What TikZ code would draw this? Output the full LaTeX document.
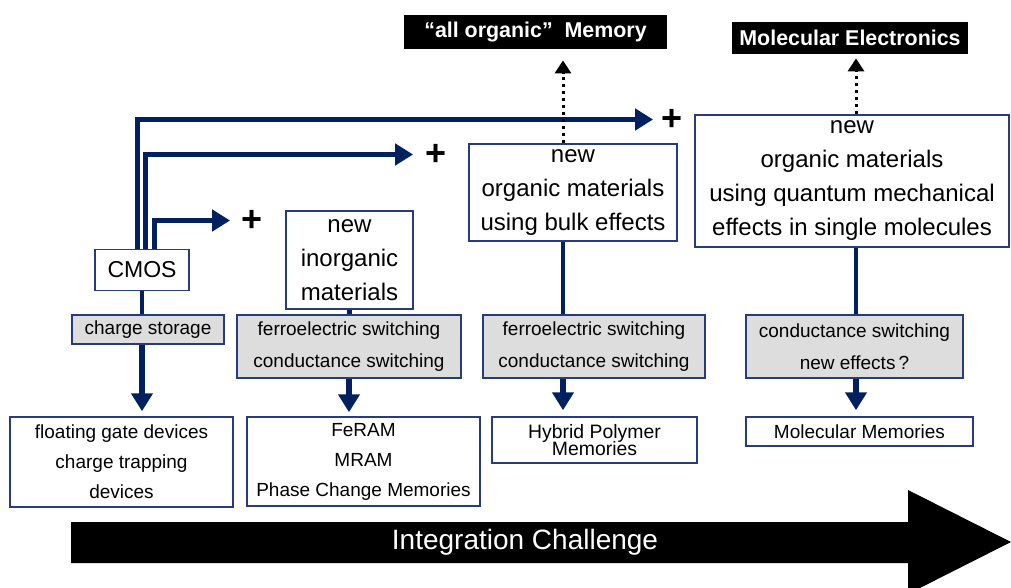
\documentclass[tikz,border=0pt]{standalone}
\usepackage{fontspec}
\setmainfont{Liberation Sans}
\usetikzlibrary{arrows.meta}
\definecolor{MemNavy}{RGB}{0,32,96}
\definecolor{MemFrame}{RGB}{40,60,125}
\definecolor{MemGray}{RGB}{221,221,221}

\begin{document}
\begin{tikzpicture}[x=0.5pt,y=-0.5pt,
    box/.style={draw=MemFrame, line width=0.75pt, fill=white, inner sep=0pt, align=center},
    graybox/.style={box, fill=MemGray, font=\fontsize{9.5}{16}\selectfont},
    bigtext/.style={font=\fontsize{12}{17}\selectfont},
    smalltext/.style={font=\fontsize{9.5}{15}\selectfont},
    tighttext/.style={font={\fontsize{9.7}{8.8}\selectfont\lineskiplimit=-10pt\relax}},
    tag/.style={fill=black, text=white, inner sep=0pt, font=\bfseries\fontsize{10.7}{12}\selectfont},
    flow/.style={MemNavy, line width=2.6pt, -{Triangle[length=9pt,width=10.5pt]}},
    link/.style={MemNavy, line width=2.2pt},
    hint/.style={black, line width=1.5pt, dash pattern=on 1.5pt off 2pt, -{Triangle[length=6.5pt,width=8pt]}},
    plus/.style={inner sep=0pt, font=\bfseries\fontsize{18}{18}\selectfont}]
  \useasboundingbox (0,0) rectangle (1011,588);

  % integration arrow
  \fill (71,522) -- (908,522) -- (908,490) -- (1011,542) -- (908,594) -- (908,563) -- (71,563) -- cycle;
  \node[text=white, font=\fontsize{14}{16}\selectfont] (integ) at (525,542.5) {Integration Challenge};

  % CMOS column
  \node[box, minimum width=47pt, minimum height=20.5pt, font=\fontsize{11.5}{14}\selectfont] (cmos) at (142,270) {CMOS};
  \node[graybox, minimum width=76pt, minimum height=14.5pt] (charge) at (148,329.5) {charge storage};
  \node[box, smalltext, minimum width=111.5pt, minimum height=45pt] (floating) at (121.5,462) {floating gate devices\\charge trapping\\devices};

  % inorganic column
  \node[box, bigtext, minimum width=63.5pt, minimum height=49pt] (inorg) at (349.5,260) {new\\inorganic\\materials};
  \node[graybox, minimum width=112pt, minimum height=31.5pt] (switchA) at (349,346.5) {ferroelectric switching\\conductance switching};
  \node[box, smalltext, minimum width=116.5pt, minimum height=44.5pt] (feram) at (363.5,461.5) {FeRAM\\MRAM\\Phase Change Memories};

  % organic bulk column
  \node[box, bigtext, minimum width=104pt, minimum height=48.5pt] (bulk) at (573,192.5) {new\\organic materials\\using bulk effects};
  \node[graybox, minimum width=111pt, minimum height=31.5pt] (switchB) at (594,346.5) {ferroelectric switching\\conductance switching};
  \node[box, tighttext, minimum width=102.5pt, minimum height=23pt] (hybrid) at (594.5,440) {Hybrid Polymer\\Memories};
  \node[tag, minimum width=131.5pt, minimum height=17pt] (allorg) at (535.5,32) {“all organic”\ \ Memory};

  % molecular column
  \node[box, bigtext, minimum width=157pt, minimum height=66pt] (quantum) at (852,181) {new\\organic materials\\using quantum mechanical\\effects in single molecules};
  \node[graybox, minimum width=108.5pt, minimum height=31.5pt] (switchC) at (854.5,346.5) {conductance switching\\new effects\,?};
  \node[box, smalltext, minimum width=113.5pt, minimum height=14.5pt] (molmem) at (859.5,431.5) {Molecular Memories};
  \node[tag, minimum width=118pt, minimum height=16pt] (molel) at (850,38) {Molecular Electronics};

  % plus signs
  \node[plus] (plus1) at (672,119.5) {+};
  \node[plus] (plus2) at (436,154.5) {+};
  \node[plus] (plus3) at (252,220.5) {+};

  % connectors
  \draw[flow, shorten >=4pt] ([xshift=-2.25pt]cmos.north) |- (plus1.west);
  \draw[flow, shorten >=6pt] ([xshift=1.75pt]cmos.north) |- (plus2.west);
  \draw[flow, shorten >=5.5pt] ([xshift=6.25pt]cmos.north) |- (plus3.west);
  \draw[link] (cmos.south) -- (cmos.south |- charge.north);
  \draw[flow, shorten >=2.5pt] (cmos.south |- charge.south) -- (cmos.south |- floating.north);
  \draw[link] (inorg.south) -- (inorg.south |- switchA.north);
  \draw[flow, shorten >=2pt] (switchA.south) -- (switchA.south |- feram.north);
  \draw[link] ([xshift=-5pt]bulk.south) -- ([xshift=-5pt]bulk.south |- switchB.north);
  \draw[flow, shorten >=3pt] ([xshift=-5pt]bulk.south |- switchB.south) -- ([xshift=-5pt]bulk.south |- hybrid.north);
  \draw[hint, shorten >=5.5pt] ([xshift=-5pt]bulk.north) -- ([xshift=-5pt]bulk.north |- allorg.south);
  \draw[link] ([xshift=2pt]quantum.south) -- ([xshift=2pt]quantum.south |- switchC.north);
  \draw[flow, shorten >=3pt] ([xshift=2pt]quantum.south |- switchC.south) -- ([xshift=2pt]quantum.south |- molmem.north);
  \draw[hint, shorten >=2pt] ([xshift=2pt]quantum.north) -- ([xshift=2pt]quantum.north |- molel.south);
\end{tikzpicture}
\end{document}
